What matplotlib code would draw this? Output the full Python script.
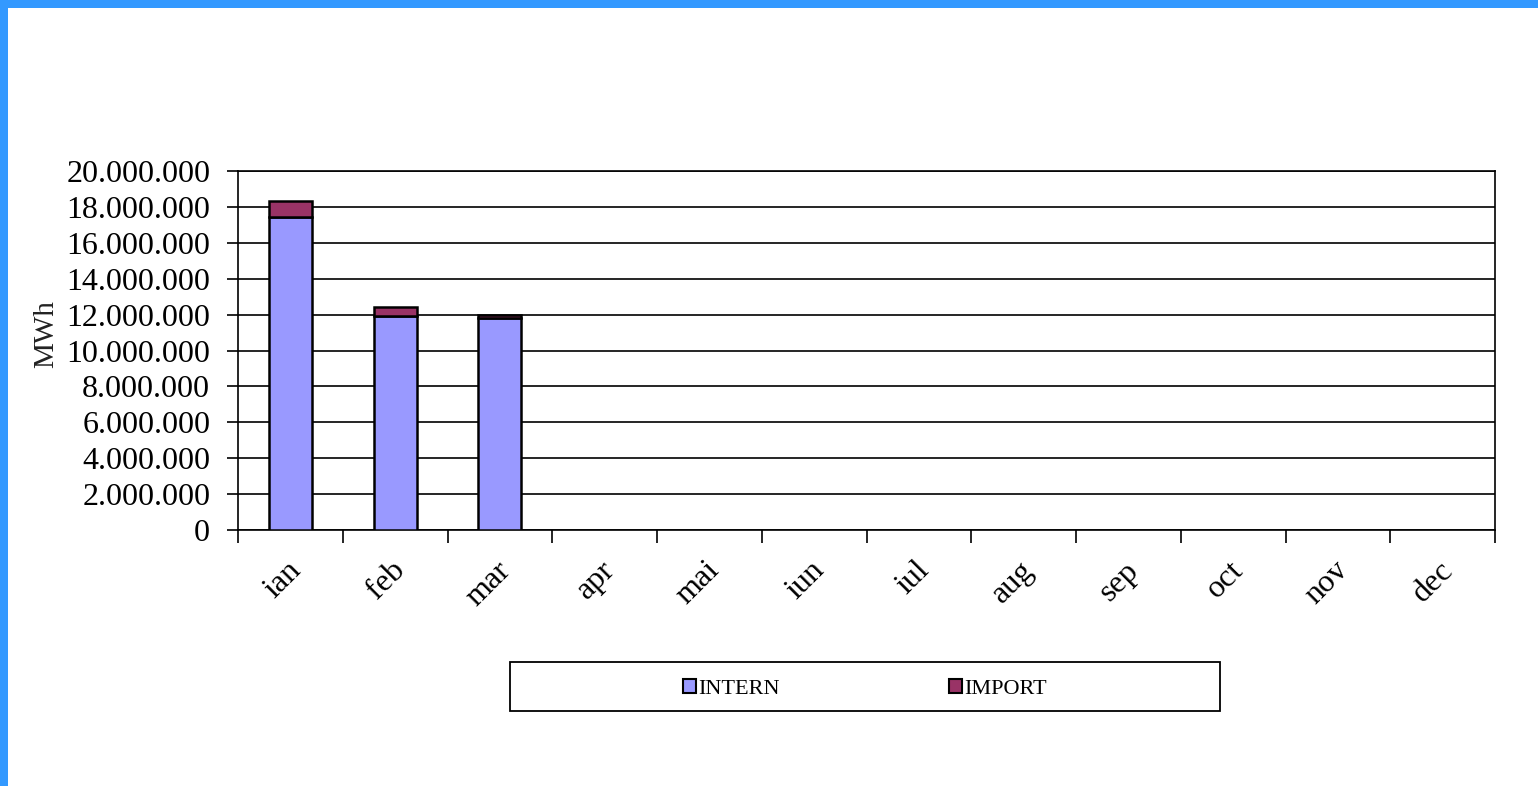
import matplotlib
matplotlib.use("Agg")
import matplotlib.pyplot as plt
import matplotlib.transforms as mtransforms
from matplotlib.patches import Rectangle, Patch
import numpy as np

months = ["ian", "feb", "mar", "apr", "mai", "iun", "iul", "aug", "sep", "oct", "nov", "dec"]
intern = [17440000, 11920000, 11810000, 0, 0, 0, 0, 0, 0, 0, 0, 0]
import_ = [890000, 500000, 170000, 0, 0, 0, 0, 0, 0, 0, 0, 0]
yticks = list(range(0, 20000001, 2000000))

plt.rcParams['font.family'] = ['Liberation Serif', 'DejaVu Serif']

W, H = 1538, 786
fig = plt.figure(figsize=(W / 100, H / 100), dpi=100)
fig.patch.set_facecolor("white")

# blue frame (top and left)
fig.patches.append(Rectangle((0, 1 - 8 / H), 1, 8 / H, transform=fig.transFigure,
                             facecolor="#3399ff", edgecolor="none", zorder=0))
fig.patches.append(Rectangle((0, 0), 8 / W, 1, transform=fig.transFigure,
                             facecolor="#3399ff", edgecolor="none", zorder=0))

left, right, top, bottom = 238, 1495, 171, 530
ax = fig.add_axes([left / W, 1 - bottom / H, (right - left) / W, (bottom - top) / H])

x = np.arange(len(months))
intern_a = np.array(intern)
import_a = np.array(import_)
mask = (intern_a + import_a) > 0
ax.bar(x[mask], intern_a[mask], width=0.41, color="#9999ff", edgecolor="black", linewidth=1.8, zorder=3)
ax.bar(x[mask], import_a[mask], bottom=intern_a[mask], width=0.41, color="#993366",
       edgecolor="black", linewidth=1.8, zorder=3)

ax.set_xlim(-0.5, len(months) - 0.5)
ax.set_ylim(0, 20000000)
ax.set_yticks(yticks)
ax.set_yticklabels([f"{v:,}".replace(",", ".") for v in yticks], fontsize=23)
ax.yaxis.grid(True, color="black", linewidth=1.2, zorder=0)
ax.set_axisbelow(True)
for s in ax.spines.values():
    s.set_color("black")
    s.set_linewidth(1.2)

# boundary ticks for x, labels on minor ticks
ax.set_xticks(np.arange(-0.5, len(months), 1.0))
ax.set_xticklabels([])
ax.tick_params(axis="x", which="major", length=9, width=1.2, direction="out")
ax.set_xticks(x, minor=True)
ax.set_xticklabels(months, minor=True, fontsize=23, rotation=45, ha="right",
                   va="center", rotation_mode="anchor")
ax.tick_params(axis="x", which="minor", length=0, pad=26)
offset = mtransforms.ScaledTranslation(6 / 100, 0, fig.dpi_scale_trans)
for lab in ax.get_xticklabels(minor=True):
    lab.set_transform(lab.get_transform() + offset)
ax.tick_params(axis="y", length=8, width=1.2, direction="out", pad=12)

fig.text(46 / W, 1 - 334 / H, "MWh", rotation=90, fontsize=21, ha="center", va="center",
         color="#222222")

# legend box
lx0, lx1, ly0, ly1 = 510, 1220, 662, 711
fig.patches.append(Rectangle((lx0 / W, 1 - ly1 / H), (lx1 - lx0) / W, (ly1 - ly0) / H,
                             transform=fig.transFigure, facecolor="white",
                             edgecolor="black", linewidth=1.3))
handles = [Patch(facecolor="#9999ff", edgecolor="black", linewidth=1.5, label="INTERN"),
           Patch(facecolor="#993366", edgecolor="black", linewidth=1.5, label="IMPORT")]
fig.legend(handles=handles, loc="center", bbox_to_anchor=((lx0 + lx1) / 2 / W, 1 - 689 / H),
           ncol=2, frameon=False, fontsize=16, handlelength=0.55, handleheight=0.55,
           handletextpad=0.1, columnspacing=7.65)

fig.savefig("out.png", dpi=100)
